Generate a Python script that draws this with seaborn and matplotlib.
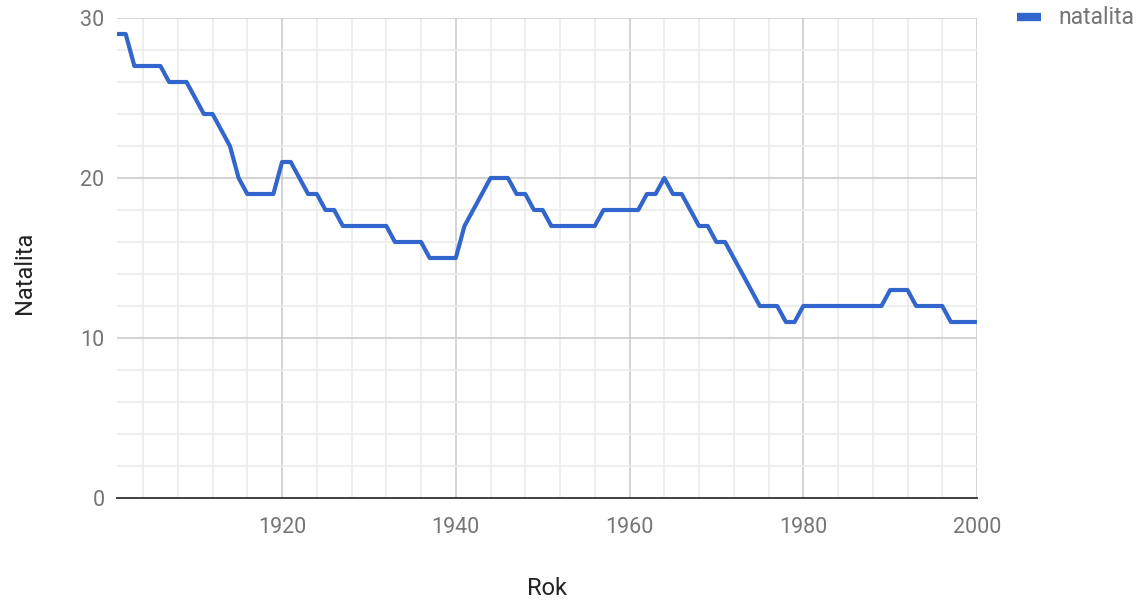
import matplotlib
matplotlib.use("Agg")
import matplotlib.pyplot as plt
from matplotlib.ticker import MultipleLocator
import seaborn as sns
import pandas as pd
from matplotlib.lines import Line2D

years = list(range(1901, 2001))
natalita = [
    29, 29, 27, 27, 27, 27, 26, 26, 26, 25,   # 1901-1910
    24, 24, 23, 22, 20, 19, 19, 19, 19, 21,   # 1911-1920
    21, 20, 19, 19, 18, 18, 17, 17, 17, 17,   # 1921-1930
    17, 17, 16, 16, 16, 16, 15, 15, 15, 15,   # 1931-1940
    17, 18, 19, 20, 20, 20, 19, 19, 18, 18,   # 1941-1950
    17, 17, 17, 17, 17, 17, 18, 18, 18, 18,   # 1951-1960
    18, 19, 19, 20, 19, 19, 18, 17, 17, 16,   # 1961-1970
    16, 15, 14, 13, 12, 12, 12, 11, 11, 12,   # 1971-1980
    12, 12, 12, 12, 12, 12, 12, 12, 12, 13,   # 1981-1990
    13, 13, 12, 12, 12, 12, 11, 11, 11, 11,   # 1991-2000
]
series_name = "natalita"
x_label = "Rok"
y_label = "Natalita"

df = pd.DataFrame({"Rok": years, "value": natalita})

sns.set_theme(style="white")
plt.rcParams["font.family"] = ["Roboto", "DejaVu Sans"]

fig = plt.figure(figsize=(11.4, 6.01), dpi=100)
ax = fig.add_axes([117 / 1140, 1 - 498 / 601, (977 - 117) / 1140, (498 - 18) / 601])

LINE = "#3366cc"
sns.lineplot(data=df, x="Rok", y="value", ax=ax, color=LINE, linewidth=3, legend=False, zorder=5)

ax.set_xlim(1901, 2000)
ax.set_ylim(0, 30)
ax.xaxis.set_major_locator(MultipleLocator(20))
ax.xaxis.set_minor_locator(MultipleLocator(4))
ax.yaxis.set_major_locator(MultipleLocator(10))
ax.yaxis.set_minor_locator(MultipleLocator(2))

ax.grid(which="major", color="#cccccc", linewidth=1.2, zorder=1)
ax.grid(which="minor", color="#ebebeb", linewidth=1.2, zorder=0)
ax.set_axisbelow(True)

for s in ["top", "right", "left"]:
    ax.spines[s].set_visible(False)
ax.spines["bottom"].set_color("#333333")
ax.spines["bottom"].set_linewidth(1.3)
ax.spines["bottom"].set_zorder(6)

ax.tick_params(axis="both", which="both", length=0)
ax.tick_params(axis="x", which="major", pad=14, labelsize=15.5, labelcolor="#757575")
ax.tick_params(axis="y", which="major", pad=9, labelsize=15.5, labelcolor="#757575")

ax.set_xlabel(x_label, fontsize=17, color="#222222", labelpad=28)
ax.set_ylabel(y_label, fontsize=17, color="#222222", labelpad=32)
ax.yaxis.label.set_y(0.47)

# legend (top right, outside the plot area)
fig.add_artist(Line2D([1017 / 1140, 1041 / 1140], [1 - 17 / 601, 1 - 17 / 601],
                      transform=fig.transFigure, color=LINE, linewidth=6,
                      solid_capstyle="butt"))
fig.text(1058 / 1140, 1 - 17 / 601, series_name, fontsize=16.5, color="#757575",
         ha="left", va="center")

fig.savefig("out.png", dpi=100)
